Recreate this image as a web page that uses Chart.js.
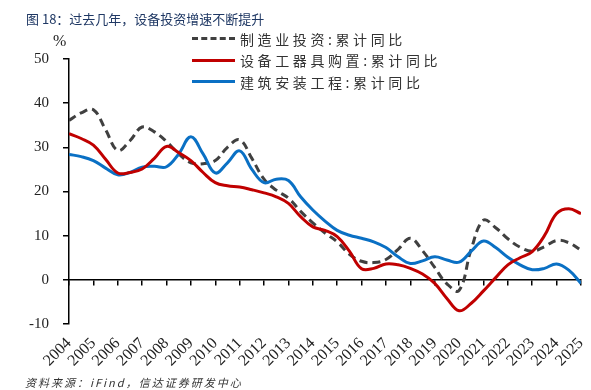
<!DOCTYPE html>
<html>
<head>
<meta charset="utf-8">
<script src="https://cdn.jsdelivr.net/npm/chart.js@4/dist/chart.umd.min.js"></script>
<style>
  body { margin: 0; background: #fff; }
  #wrap { position: relative; width: 591px; height: 390px; overflow: hidden; }
  #chart { position: absolute; left: 0; top: 0; }
  .title { position: absolute; left: 26px; top: 9px; font: 13px "Noto Sans CJK SC", sans-serif; color: #1f3864; white-space: nowrap; }
  .unit { position: absolute; left: 53px; top: 32px; font: 16px "Liberation Serif", serif; color: #222; }
  .source { position: absolute; left: 25px; top: 374px; font: italic 11px "Noto Sans CJK SC", sans-serif; color: #333; letter-spacing: 2px; white-space: nowrap; }
  .legend { position: absolute; left: 192px; top: 28px; }
  .legend div { height: 21.5px; display: flex; align-items: center; font: 14px "Noto Sans CJK SC", sans-serif; color: #333; letter-spacing: 3.6px; white-space: nowrap; }
  .legend span { display: inline-block; width: 43px; margin-right: 5px; border-top: 3px solid; }
</style>
</head>
<body>
<div id="wrap">
  <canvas id="chart" width="591" height="390"></canvas>
  <div class="title">图 18：过去几年，设备投资增速不断提升</div>
  <div class="unit">%</div>
  <div class="legend" id="legend"></div>
  <div class="source">资料来源：iFind，信达证券研发中心</div>
</div>
<script>
  // half-year sampling points, 2004 .. 2025
  const periods = [
    2004, 2004.5, 2005, 2005.5, 2006, 2006.5, 2007, 2007.5, 2008, 2008.5,
    2009, 2009.5, 2010, 2010.5, 2011, 2011.5, 2012, 2012.5, 2013, 2013.5,
    2014, 2014.5, 2015, 2015.5, 2016, 2016.5, 2017, 2017.5, 2018, 2018.5,
    2019, 2019.5, 2020, 2020.5, 2021, 2021.5, 2022, 2022.5, 2023, 2023.5,
    2024, 2024.5, 2025
  ];

  const yearLabels = [
    "2004", "2005", "2006", "2007", "2008", "2009", "2010", "2011", "2012", "2013", "2014",
    "2015", "2016", "2017", "2018", "2019", "2020", "2021", "2022", "2023", "2024", "2025"
  ];

  const seriesNames = ["制造业投资:累计同比", "设备工器具购置:累计同比", "建筑安装工程:累计同比"];

  const manufacturing = [
    36.1, 37.8, 38.5, 34.0, 29.3, 31.5, 34.6, 33.5, 31.3, 28.5,
    26.5, 26.3, 27.0, 30.0, 31.7, 27.5, 22.8, 20.3, 18.5, 15.5,
    12.9, 10.6, 8.6, 5.8, 4.2, 3.9, 4.6, 6.9, 9.4, 6.6,
    2.8, -0.9, -2.4, 7.0, 13.5, 11.8, 9.3, 7.4, 6.5, 7.5,
    8.9, 8.4, 6.7
  ];

  const equipment = [
    33.1, 32.0, 30.5, 27.3, 24.2, 24.3, 25.1, 27.5, 30.2, 28.8,
    27.0, 24.3, 22.0, 21.3, 21.0, 20.4, 19.7, 18.8, 17.3, 14.3,
    12.0, 11.2, 9.8, 6.5, 2.5, 2.6, 3.6, 3.4, 2.6, 1.3,
    -0.8, -4.2, -7.0, -5.3, -2.5, 0.5, 3.4, 5.0, 6.4, 10.0,
    15.0, 16.1, 15.0
  ];

  const construction = [
    28.4, 27.9, 27.0, 25.3, 23.8, 24.3, 25.5, 25.7, 25.6, 28.5,
    32.4, 28.5, 24.2, 26.5, 29.2, 25.0, 22.0, 22.8, 22.5, 18.8,
    15.8, 13.3, 11.2, 10.1, 9.4, 8.6, 7.3, 5.2, 3.7, 4.3,
    5.2, 4.5, 4.0, 6.5, 8.8, 7.3, 5.1, 3.4, 2.3, 2.6,
    3.6, 2.2, -0.8
  ];

  const colors = ["#404040", "#c00000", "#0a70c4"];

  function toPoints(values) {
    return values.map((v, i) => ({ x: periods[i], y: v }));
  }

  // legend (html)
  const legend = document.getElementById("legend");
  seriesNames.forEach((name, i) => {
    const row = document.createElement("div");
    const mark = document.createElement("span");
    if (i === 0) {
      mark.style.borderTop = "3px dashed " + colors[0];
    } else {
      mark.style.borderColor = colors[i];
    }
    row.appendChild(mark);
    row.appendChild(document.createTextNode(name));
    legend.appendChild(row);
  });

  const serif = (size) => ({ family: "'Liberation Serif', serif", size });

  new Chart(document.getElementById("chart"), {
    type: "line",
    data: {
      datasets: [
        {
          label: seriesNames[1],
          data: toPoints(equipment),
          borderColor: colors[1],
          borderWidth: 3,
          tension: 0.4,
          pointRadius: 0
        },
        {
          label: seriesNames[2],
          data: toPoints(construction),
          borderColor: colors[2],
          borderWidth: 3,
          tension: 0.4,
          pointRadius: 0
        },
        {
          label: seriesNames[0],
          data: toPoints(manufacturing),
          borderColor: colors[0],
          borderWidth: 3,
          borderDash: [8, 5],
          tension: 0.4,
          pointRadius: 0
        }
      ]
    },
    options: {
      responsive: false,
      animation: false,
      layout: { padding: { left: 0, right: 10, top: 59, bottom: 0 } },
      plugins: {
        legend: { display: false },
        tooltip: { enabled: false }
      },
      scales: {
        x: {
          type: "linear",
          min: 2004,
          max: 2025,
          position: "bottom",
          border: { display: false },
          grid: { display: false, drawTicks: false },
          ticks: {
            stepSize: 1,
            autoSkip: false,
            maxRotation: 45,
            minRotation: 45,
            padding: 10,
            color: "#222",
            font: serif(16),
            callback: (value) => yearLabels[value - 2004]
          },
          afterFit: (scale) => {
            scale.height = 66;
            scale.paddingLeft = 0;
            scale.paddingRight = 0;
          }
        },
        x2: {
          type: "linear",
          min: 2004,
          max: 2025,
          position: { y: 0 },
          border: { color: "#000", width: 1.5 },
          grid: { drawOnChartArea: false, drawTicks: true, tickLength: 5, color: "#000", lineWidth: 1.5 },
          ticks: { display: false, stepSize: 1 },
          afterFit: (scale) => {
            scale.paddingLeft = 0;
            scale.paddingRight = 0;
          }
        },
        y: {
          min: -10,
          max: 50,
          border: { color: "#000", width: 1.5 },
          grid: { drawOnChartArea: false, drawTicks: true, tickLength: 6, color: "#000", lineWidth: 1.5 },
          ticks: { stepSize: 10, padding: 14, color: "#222", font: serif(15) },
          afterFit: (scale) => { scale.width = 69; }
        }
      }
    }
  });
</script>
</body>
</html>
